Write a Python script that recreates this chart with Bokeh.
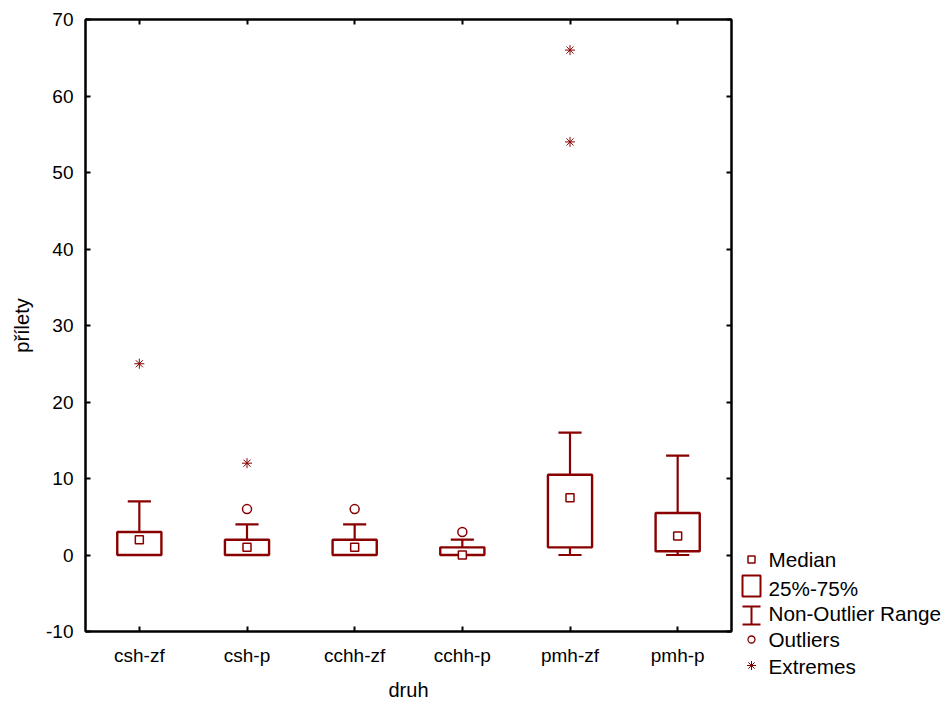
from bokeh.plotting import figure
from bokeh.models import (ColumnDataSource, FactorRange, Range1d, FixedTicker,
                          CategoricalAxis, LinearAxis)
from bokeh.layouts import row
from bokeh.transform import dodge
from bokeh.embed import file_html
from bokeh.resources import INLINE
from bokeh.core.properties import value

# --- data -------------------------------------------------------------
categories = ["csh-zf", "csh-p", "cchh-zf", "cchh-p", "pmh-zf", "pmh-p"]
medians = [2, 1, 1, 0, 7.5, 2.5]
q1 = [0, 0, 0, 0, 1, 0.5]
q3 = [3, 2, 2, 1, 10.5, 5.5]
whisker_low = [0, 0, 0, 0, 0, 0]
whisker_high = [7, 4, 4, 2, 16, 13]

outlier_cats = ["csh-p", "cchh-zf", "cchh-p"]
outlier_vals = [6, 6, 3]

extreme_cats = ["csh-zf", "csh-p", "pmh-zf", "pmh-zf"]
extreme_vals = [25, 12, 54, 66]

y_ticks = [-10, 0, 10, 20, 30, 40, 50, 60, 70]
legend_labels = ["Median", "25%-75%", "Non-Outlier Range", "Outliers", "Extremes"]

# --- style ------------------------------------------------------------
RED = "#880000"
FONT = "Liberation Sans"
BOX_W = 0.41
CAP_W = 0.215

p = figure(x_range=FactorRange(factors=categories), y_range=Range1d(-10, 70),
           frame_width=646, frame_height=612,
           min_border_left=85, min_border_right=9, min_border_top=19,
           min_border_bottom=71,
           x_axis_label="druh", y_axis_label="přílety",
           output_backend="svg", toolbar_location=None)
p.frame_align = False
p.xgrid.visible = False
p.ygrid.visible = False
p.outline_line_color = "black"
p.outline_line_width = 2
p.background_fill_color = "white"
p.border_fill_color = "white"

p.yaxis.ticker = FixedTicker(ticks=y_ticks)
p.yaxis.major_label_overrides = {t: str(t) for t in y_ticks}

for ax in p.axis:
    ax.axis_line_color = "black"
    ax.axis_line_width = 2
    ax.major_tick_in = 5
    ax.major_tick_out = 0
    ax.major_tick_line_width = 2
    ax.minor_tick_line_color = None
    ax.major_label_text_font = FONT
    ax.major_label_text_font_size = "19px"
    ax.major_label_text_color = "black"
    ax.axis_label_text_font = FONT
    ax.axis_label_text_font_size = "20px"
    ax.axis_label_text_font_style = "normal"
    ax.axis_label_text_color = "black"

p.xaxis.major_label_standoff = 13
p.xaxis.axis_label_standoff = 10
p.yaxis.major_label_standoff = 12
p.yaxis.axis_label_standoff = 10

# tick-only axes on the top and right edges
top_axis = CategoricalAxis()
right_axis = LinearAxis(ticker=FixedTicker(ticks=y_ticks))
for ax in (top_axis, right_axis):
    ax.axis_line_width = 2
    ax.major_tick_in = 5
    ax.major_tick_out = 0
    ax.major_tick_line_width = 2
    ax.minor_tick_line_color = None
    ax.major_label_text_color = None
    ax.major_label_text_font_size = "0px"
    ax.major_label_standoff = 0
p.add_layout(top_axis, "above")
p.add_layout(right_axis, "right")

# --- box plot ---------------------------------------------------------
src = ColumnDataSource(dict(cat=categories, med=medians, q1=q1, q3=q3,
                            lo=whisker_low, hi=whisker_high))

cap_left = dodge("cat", -CAP_W / 2, range=p.x_range)
cap_right = dodge("cat", CAP_W / 2, range=p.x_range)

p.segment(x0="cat", y0="q3", x1="cat", y1="hi", line_color=RED,
          line_width=2.2, source=src)
p.segment(x0="cat", y0="q1", x1="cat", y1="lo", line_color=RED,
          line_width=2.2, source=src)
p.segment(x0=cap_left, y0="hi", x1=cap_right, y1="hi", line_color=RED,
          line_width=2.2, source=src)
p.segment(x0=cap_left, y0="lo", x1=cap_right, y1="lo", line_color=RED,
          line_width=2.2, source=src)
p.vbar(x="cat", width=BOX_W, top="q3", bottom="q1", fill_color="white",
       line_color=RED, line_width=2.4, source=src)
p.scatter(x="cat", y="med", marker="square", size=8, fill_color="white",
          line_color=RED, line_width=1.5, source=src)

p.scatter(x=outlier_cats, y=outlier_vals, marker="circle", size=9,
          fill_color=None, line_color=RED, line_width=1.5)
p.scatter(x=extreme_cats, y=extreme_vals, marker="asterisk", size=10,
          line_color=RED, line_width=1)

# --- legend panel -----------------------------------------------------
lg = figure(width=206, height=702, x_range=Range1d(740, 946),
            y_range=Range1d(702, 0), min_border=0,
            x_axis_location=None, y_axis_location=None,
            output_backend="svg", toolbar_location=None)
lg.frame_align = False
lg.xgrid.visible = False
lg.ygrid.visible = False
lg.outline_line_color = None
lg.border_fill_color = "white"

key_x = 751
text_x = 768
text_y = [559, 588, 613, 639, 666]
key_y = [559, 586, 615, 639, 665]

lg.scatter(x=[key_x], y=[key_y[0]], marker="square", size=7,
           fill_color=None, line_color=RED, line_width=1.5)
lg.quad(left=[key_x - 9], right=[key_x + 9], top=[key_y[1] - 11],
        bottom=[key_y[1] + 10], fill_color=None, line_color=RED, line_width=2)
lg.segment(x0=[key_x], y0=[key_y[2] - 9], x1=[key_x], y1=[key_y[2] + 9],
           line_color=RED, line_width=2)
lg.segment(x0=[key_x - 9, key_x - 9], y0=[key_y[2] - 9, key_y[2] + 9],
           x1=[key_x + 9, key_x + 9], y1=[key_y[2] - 9, key_y[2] + 9],
           line_color=RED, line_width=2)
lg.scatter(x=[key_x], y=[key_y[3]], marker="circle", size=7,
           fill_color=None, line_color=RED, line_width=1.3)
lg.scatter(x=[key_x], y=[key_y[4]], marker="asterisk", size=9,
           line_color=RED, line_width=1)

lg.text(x=[text_x] * len(legend_labels), y=text_y, text=legend_labels,
        text_baseline="middle", text_align="left",
        text_font=value(FONT), text_font_size="20.7px", text_color="black")

layout = row(p, lg)
open("out.html", "w").write(file_html(layout, INLINE))
